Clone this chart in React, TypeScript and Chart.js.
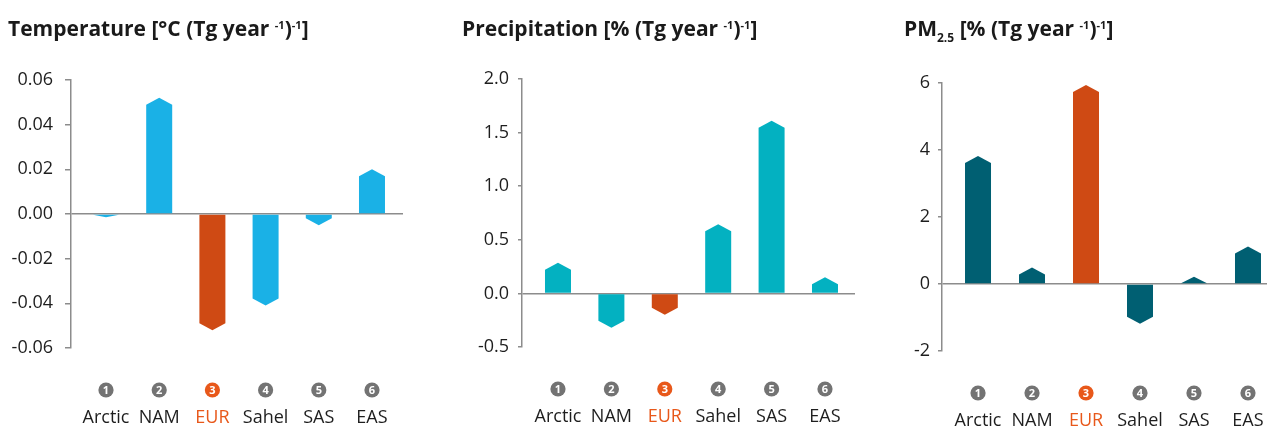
import React, { useEffect, useRef } from "react";
import { Chart, registerables } from "chart.js";

Chart.register(...registerables);

// ---------- data ----------
const REGIONS = ["Arctic", "NAM", "EUR", "Sahel", "SAS", "EAS"];
const REGION_NUMBERS = ["1", "2", "3", "4", "5", "6"];
const HIGHLIGHT_REGION = "EUR";

const TEMPERATURE = [-0.0015, 0.052, -0.052, -0.041, -0.005, 0.02];
const PRECIPITATION = [0.285, -0.32, -0.2, 0.646, 1.61, 0.15];
const PM25 = [3.82, 0.49, 5.94, -1.19, 0.22, 1.12];

const TEMPERATURE_TICKS = [-0.06, -0.04, -0.02, 0, 0.02, 0.04, 0.06];
const PRECIPITATION_TICKS = [-0.5, 0, 0.5, 1, 1.5, 2];
const PM25_TICKS = [-2, 0, 2, 4, 6];

// ---------- style ----------
const FONT = "'Open Sans', 'Noto Sans', sans-serif";
const HIGHLIGHT_COLOR = "#CF4A14";
const HIGHLIGHT_TEXT = "#E8581A";
const AXIS_COLOR = "#8C8C8C";
const TIP = 7;

type Panel = {
  left: number;
  width: number;
  values: number[];
  ticks: number[];
  decimals: number;
  color: string;
  xMin: number;
  xMax: number;
  axisWidth: number;
  padRight: number;
  padTop: number;
  padBottom: number;
  tickPad: number;
  tickLen: number;
  title: React.ReactNode;
  titleLeft: number;
};

const sup = (t: string) => (
  <sup style={{ fontSize: 11, verticalAlign: "top", position: "relative", top: -3 }}>{t}</sup>
);

const PANELS: Panel[] = [
  {
    left: 0,
    width: 440,
    values: TEMPERATURE,
    ticks: TEMPERATURE_TICKS,
    decimals: 2,
    color: "#1AB1E6",
    xMin: -0.658,
    xMax: 5.583,
    axisWidth: 71,
    padRight: 37,
    padTop: 80,
    padBottom: 79,
    tickPad: 12,
    tickLen: 6,
    titleLeft: 8,
    title: (
      <>
        Temperature [°C (Tg year {sup("-1")}){sup("-1")}]
      </>
    ),
  },
  {
    left: 440,
    width: 440,
    values: PRECIPITATION,
    ticks: PRECIPITATION_TICKS,
    decimals: 1,
    color: "#03B1C1",
    xMin: -0.674,
    xMax: 5.562,
    axisWidth: 82,
    padRight: 25,
    padTop: 79,
    padBottom: 80,
    tickPad: 9,
    tickLen: 4,
    titleLeft: 462,
    title: (
      <>
        Precipitation [% (Tg year {sup("-1")}){sup("-1")}]
      </>
    ),
  },
  {
    left: 880,
    width: 387,
    values: PM25,
    ticks: PM25_TICKS,
    decimals: 0,
    color: "#005F72",
    xMin: -0.667,
    xMax: 5.352,
    axisWidth: 62,
    padRight: 0,
    padTop: 83,
    padBottom: 76,
    tickPad: 8,
    tickLen: 4,
    titleLeft: 904,
    title: (
      <>
        PM
        <sub style={{ fontSize: 12, verticalAlign: "baseline", position: "relative", top: 6 }}>2.5</sub>{" "}
        [% (Tg year {sup("-1")}){sup("-1")}]
      </>
    ),
  },
];

// draws bars with a pointed end (value = tip)
const pointedBars = {
  id: "pointedBars",
  beforeDatasetsDraw(chart: any) {
    const ctx = chart.ctx;
    chart.getSortedVisibleDatasetMetas().forEach((meta: any) => {
      meta.data.forEach((el: any) => {
        const { x, y, base, width } = el.getProps(["x", "y", "base", "width"], true);
        const dir = base >= y ? 1 : -1;
        const h = Math.min(TIP, Math.abs(base - y));
        const sh = y + dir * h;
        ctx.save();
        ctx.fillStyle = el.options.backgroundColor;
        ctx.beginPath();
        ctx.moveTo(x - width / 2, base);
        ctx.lineTo(x - width / 2, sh);
        ctx.lineTo(x, y);
        ctx.lineTo(x + width / 2, sh);
        ctx.lineTo(x + width / 2, base);
        ctx.closePath();
        ctx.fill();
        ctx.restore();
      });
    });
    return false;
  },
};

// numbered region labels under the bars
const regionLabels = {
  id: "regionLabels",
  afterDraw(chart: any) {
    const ctx = chart.ctx;
    const xs = chart.scales.x;
    const bottom = chart.chartArea.bottom;
    ctx.save();
    REGIONS.forEach((r, i) => {
      const px = xs.getPixelForValue(i);
      const hl = r === HIGHLIGHT_REGION;
      const cy = bottom + 42;
      ctx.beginPath();
      ctx.arc(px, cy, 7.6, 0, Math.PI * 2);
      ctx.fillStyle = hl ? HIGHLIGHT_TEXT : "#737373";
      ctx.fill();
      ctx.fillStyle = "#ffffff";
      ctx.font = `bold 11px ${FONT}`;
      ctx.textAlign = "center";
      ctx.textBaseline = "middle";
      ctx.fillText(REGION_NUMBERS[i], px, cy + 0.5);
      ctx.fillStyle = hl ? HIGHLIGHT_TEXT : "#1e1e1e";
      ctx.font = `18px ${FONT}`;
      ctx.textBaseline = "alphabetic";
      ctx.fillText(r, px, bottom + 75);
    });
    ctx.restore();
  },
};

function PanelChart({ p }: { p: Panel }) {
  const ref = useRef<HTMLCanvasElement>(null);
  useEffect(() => {
    if (!ref.current) return;
    const chart = new Chart(ref.current, {
      type: "bar",
      data: {
        datasets: [
          {
            data: p.values.map((v, i) => ({ x: i, y: v })),
            backgroundColor: REGIONS.map((r) => (r === HIGHLIGHT_REGION ? HIGHLIGHT_COLOR : p.color)),
            barThickness: 26,
          },
        ],
      },
      options: {
        responsive: false,
        animation: false,
        events: [],
        layout: { padding: { left: 0, right: p.padRight, top: p.padTop, bottom: p.padBottom } },
        plugins: { legend: { display: false }, tooltip: { enabled: false }, title: { display: false } },
        scales: {
          x: {
            type: "linear",
            display: false,
            offset: false,
            min: p.xMin,
            max: p.xMax,
            grid: { offset: false },
          },
          y: {
            type: "linear",
            min: p.ticks[0],
            max: p.ticks[p.ticks.length - 1],
            afterBuildTicks: (s: any) => {
              s.ticks = p.ticks.map((v) => ({ value: v }));
            },
            afterFit: (s: any) => {
              s.width = p.axisWidth;
            },
            border: { display: true, color: AXIS_COLOR, width: 1.5 },
            grid: {
              drawOnChartArea: true,
              drawTicks: true,
              tickLength: p.tickLen,
              tickColor: AXIS_COLOR,
              lineWidth: 1.5,
              color: (c: any) =>
                c.tick && Math.abs(c.tick.value) < 1e-9 ? AXIS_COLOR : "rgba(0,0,0,0)",
            },
            ticks: {
              padding: p.tickPad,
              color: "#1e1e1e",
              font: { family: FONT, size: 18 },
              callback: (v: any) => Number(v).toFixed(p.decimals),
            },
          },
        },
      },
      plugins: [pointedBars, regionLabels],
    });
    return () => chart.destroy();
  }, [p]);
  return (
    <canvas
      ref={ref}
      width={p.width}
      height={427}
      style={{ position: "absolute", left: p.left, top: 0, width: p.width, height: 427 }}
    />
  );
}

export default function App() {
  return (
    <div
      style={{
        position: "absolute",
        left: 0,
        top: 0,
        width: 1267,
        height: 427,
        background: "#ffffff",
        overflow: "hidden",
        fontFamily: FONT,
      }}
    >
      {PANELS.map((p, i) => (
        <PanelChart key={i} p={p} />
      ))}
      {PANELS.map((p, i) => (
        <div
          key={"t" + i}
          style={{
            position: "absolute",
            left: p.titleLeft,
            top: 18,
            fontSize: 21,
            lineHeight: "20px",
            fontWeight: 700,
            color: "#1a1a1a",
            whiteSpace: "nowrap",
          }}
        >
          {p.title}
        </div>
      ))}
    </div>
  );
}
